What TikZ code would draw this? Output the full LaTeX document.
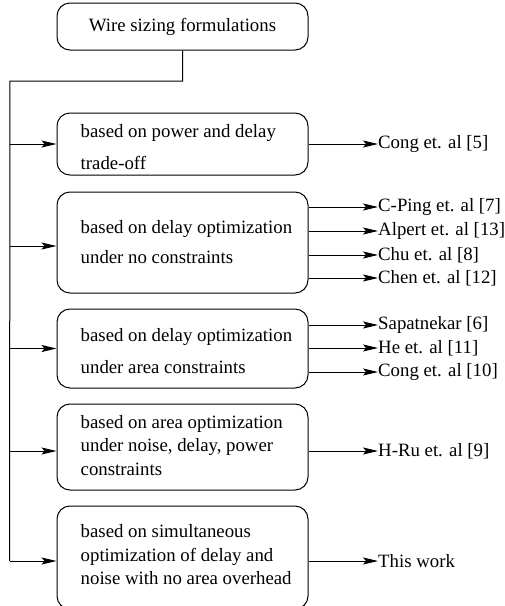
\documentclass[tikz,border=0pt]{standalone}
\usepackage{fontspec}
\setmainfont{Liberation Serif}
\usetikzlibrary{arrows.meta,positioning}
\newcommand{\wsFont}{\fontsize{18.8}{23.5}\selectfont}
\tikzset{
  wsbox/.style={draw, rounded corners=13pt, line width=1pt, minimum width=251pt, inner sep=0pt, font=\wsFont},
  wstext/.style={anchor=west, align=left, inner sep=0pt, font=\wsFont},
  wsref/.style={anchor=west, inner sep=0pt, font=\wsFont},
  wsline/.style={line width=1pt},
  wsarrow/.style={line width=1pt, -{Stealth[length=15pt,width=7pt,inset=3pt]}}
}

\begin{document}
\begin{tikzpicture}[x=1pt,y=-1pt]
\useasboundingbox (0,0) rectangle (505,606);
\node[wsbox, minimum height=47pt] (top) at (182.5,26.5) {Wire sizing formulations};
\node[wsbox, minimum height=62pt] (b1) at (182.5,144) {};
\node[wsbox, minimum height=101pt] (b2) at (182.5,242.5) {};
\node[wsbox, minimum height=79pt] (b3) at (182.5,348.5) {};
\node[wsbox, minimum height=86pt] (b4) at (182.5,447) {};
\node[wsbox, minimum height=103pt] (b5) at (182.5,557.5) {};
\node[wstext] (t1) at ([xshift=24pt,yshift=-3pt]b1.west) {based on power and delay\\[8.5pt]trade-off};
\node[wstext] (t2) at ([xshift=24pt]b2.west) {based on delay optimization\\[6.5pt]under no constraints};
\node[wstext] (t3) at ([xshift=24pt,yshift=-2.5pt]b3.west) {based on delay optimization\\[8.5pt]under area constraints};
\node[wstext] (t4) at ([xshift=24pt,yshift=1.5pt]b4.west) {based on area optimization\\under noise, delay, power\\constraints};
\node[wstext] (t5) at ([xshift=24pt,yshift=2.5pt]b5.west) {based on simultaneous\\optimization of delay and\\noise with no area overhead};
\node[wsref] (r11) at (378,144) {Cong et. al [5]};
\node[wsref] (r21) at (378,207) {C-Ping et. al [7]};
\node[wsref] (r22) at (378,231) {Alpert et. al [13]};
\node[wsref] (r23) at (378,255) {Chu et. al [8]};
\node[wsref] (r24) at (378,278) {Chen et. al [12]};
\node[wsref] (r31) at (378,325) {Sapatnekar [6]};
\node[wsref] (r32) at (378,348) {He et. al [11]};
\node[wsref] (r33) at (378,372) {Cong et. al [10]};
\node[wsref] (r41) at (378,451) {H-Ru et. al [9]};
\node[wsref] (r51) at (378,561) {This work};
\coordinate (bend) at (10,81);
\draw[wsline] (top.south) |- (bend) -- ([xshift=-47pt,yshift=-3.5pt]b5.west);
\foreach \b/\dy in {b1/0,b2/-3.5,b3/0,b4/-4,b5/-3.5}
  \draw[wsarrow] ([xshift=-47pt,yshift=\dy pt]\b.west) -- ([yshift=\dy pt]\b.west);
\foreach \b/\r in {b1/r11,b2/r21,b2/r22,b2/r23,b2/r24,b3/r31,b3/r32,b3/r33,b4/r41,b5/r51}
  \draw[wsarrow] (\b.east |- \r.west) -- (\r.west);
\end{tikzpicture}
\end{document}
